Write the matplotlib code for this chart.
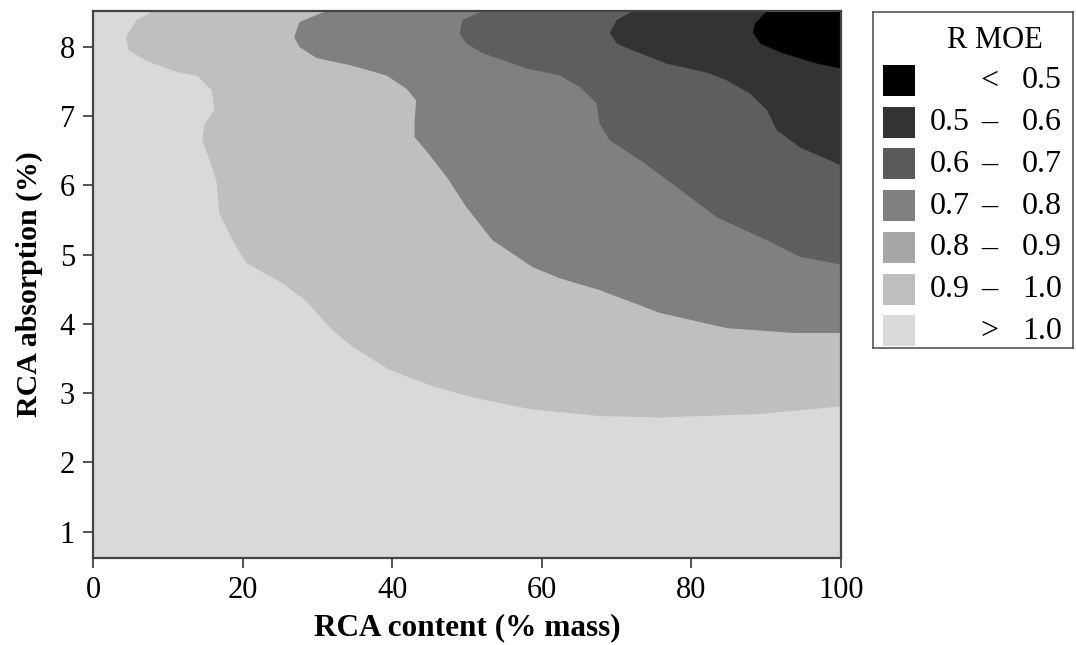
import matplotlib
matplotlib.use("Agg")
import matplotlib.pyplot as plt
from matplotlib.patches import Rectangle

plt.rcParams['font.family'] = ['Liberation Serif', 'DejaVu Serif']

# contour boundaries (RCA content %, RCA absorption %)
# each runs from the top edge of the plot down to the right edge
b10_x = [8.2, 5.8, 4.4, 4.8, 7.5, 11.5, 14.0, 15.9, 16.2, 14.9, 14.6, 15.5, 16.5,
         16.9, 18.7, 20.5, 25.3, 28.4, 32.0, 34.7, 39.6, 45.4, 50.7, 58.4, 67.7,
         75.8, 89.2, 100]
b10_y = [8.52, 8.39, 8.14, 7.95, 7.78, 7.63, 7.58, 7.37, 7.09, 6.88, 6.65, 6.40, 6.07,
         5.59, 5.20, 4.88, 4.59, 4.34, 3.91, 3.67, 3.34, 3.10, 2.94, 2.77, 2.67,
         2.65, 2.70, 2.81]

b09_x = [31.2, 27.6, 26.9, 27.6, 29.9, 34.3, 39.2, 41.9, 43.2, 43.0, 43.0, 45.0,
         47.3, 49.9, 53.4, 58.8, 62.4, 67.7, 75.8, 84.7, 93.6, 100]
b09_y = [8.52, 8.36, 8.14, 8.00, 7.84, 7.74, 7.59, 7.40, 7.23, 6.94, 6.70, 6.44,
         6.12, 5.69, 5.21, 4.82, 4.66, 4.49, 4.16, 3.94, 3.87, 3.87]

b07_x = [52.1, 49.4, 49.0, 49.9, 52.1, 58.0, 62.4, 65.1, 67.3, 67.7, 69.1, 73.1,
         78.0, 83.4, 90.1, 94.5, 100]
b07_y = [8.52, 8.39, 8.20, 8.05, 7.91, 7.69, 7.59, 7.42, 7.19, 6.90, 6.65, 6.37,
         5.98, 5.54, 5.21, 4.97, 4.86]

b06_x = [72.2, 70.0, 69.1, 70.0, 72.2, 76.7, 82.1, 84.7, 87.8, 90.1, 91.4, 94.5, 100]
b06_y = [8.52, 8.39, 8.20, 8.05, 7.95, 7.76, 7.63, 7.52, 7.33, 7.09, 6.80, 6.55, 6.29]

b05_x = [90.1, 88.5, 88.2, 89.2, 92.2, 96.8, 100]
b05_y = [8.52, 8.34, 8.21, 8.05, 7.91, 7.76, 7.69]

boundaries = [(b10_x, b10_y), (b09_x, b09_y), (b07_x, b07_y), (b06_x, b06_y), (b05_x, b05_y)]
fill_colors = ['#bfbfbf', '#808080', '#5e5e5e', '#333333', '#000000']
base_color = '#d9d9d9'

legend_labels = [('', '<', '0.5'), ('0.5', '–', '0.6'), ('0.6', '–', '0.7'),
                 ('0.7', '–', '0.8'), ('0.8', '–', '0.9'), ('0.9', '–', '1.0'),
                 ('', '>', '1.0')]
legend_colors = ['#000000', '#333333', '#5a5a5a', '#808080', '#a6a6a6', '#bfbfbf', '#d9d9d9']

xmin, xmax = 0, 100
ymin, ymax = 0.62, 8.52

W, H = 1076, 645
fig = plt.figure(figsize=(W / 100, H / 100), dpi=100)
ax = fig.add_axes([93 / W, 1 - 558 / H, (841 - 93) / W, (558 - 11) / H])
ax.set_facecolor(base_color)

for (bx, by), c in zip(boundaries, fill_colors):
    ax.fill(bx + [xmax], by + [ymax], color=c, lw=0, antialiased=True)

ax.set_xlim(xmin, xmax)
ax.set_ylim(ymin, ymax)
ax.set_xticks([0, 20, 40, 60, 80, 100])
ax.set_yticks([1, 2, 3, 4, 5, 6, 7, 8])
ax.tick_params(direction='out', length=7, width=1.3, color='#444444',
               labelsize=22, pad=6)
for s in ax.spines.values():
    s.set_color('#444444')
    s.set_linewidth(1.6)

ax.set_xlabel('RCA content (% mass)', fontsize=22.5, fontweight='bold', labelpad=6)
ax.set_ylabel('RCA absorption (%)', fontsize=21.5, fontweight='bold', labelpad=12)

# legend box drawn by hand, in pixel units
lx0, ly0, lx1, ly1 = 873, 12, 1073, 348
lax = fig.add_axes([lx0 / W, 1 - ly1 / H, (lx1 - lx0) / W, (ly1 - ly0) / H])
lax.set_xlim(0, lx1 - lx0)
lax.set_ylim(ly1 - ly0, 0)
lax.set_xticks([])
lax.set_yticks([])
for s in lax.spines.values():
    s.set_color('#555555')
    s.set_linewidth(1.2)

lax.text(122, 29, 'R MOE', ha='center', va='center', fontsize=22)
for i, ((lo, op, hi), c) in enumerate(zip(legend_labels, legend_colors)):
    top = 53 + i * 41.7
    lax.add_patch(Rectangle((10, top), 32, 31, facecolor=c, edgecolor='none'))
    yc = top + 16
    lax.text(97, yc, lo, ha='right', va='center', fontsize=23)
    lax.text(116, yc, op, ha='center', va='center', fontsize=23)
    lax.text(149, yc, hi, ha='left', va='center', fontsize=23)

fig.savefig('out.png', dpi=100)
